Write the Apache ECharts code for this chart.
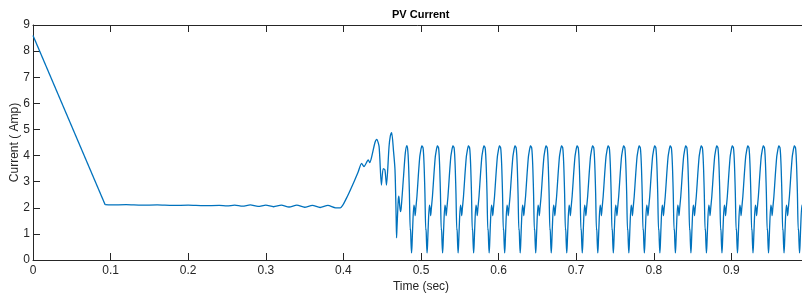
<!DOCTYPE html>
<html>
<head>
<meta charset="utf-8">
<script src="https://cdn.jsdelivr.net/npm/echarts@6/dist/echarts.min.js"></script>
<style>
  html, body { margin: 0; padding: 0; background: #fff; }
  #main { width: 802px; height: 293px; }
</style>
</head>
<body>
<div id="main"></div>
<script>
// initial ramp down of the PV current (time s, current A)
var rampTimes = [0, 0.093];
var rampValues = [8.6, 2.12];

// flat MPPT region and the transition into the ripple
var startTimes = [0.093, 0.10, 0.12, 0.14, 0.16, 0.18, 0.20, 0.22, 0.24,
  0.25, 0.26, 0.27, 0.28, 0.29, 0.30, 0.31, 0.32, 0.33, 0.34, 0.35, 0.36, 0.37, 0.38, 0.39,
  0.396, 0.404, 0.413, 0.419, 0.4235, 0.4265, 0.432, 0.434, 0.4365, 0.4407, 0.443, 0.446,
  0.449, 0.4513, 0.4535, 0.4555, 0.4588, 0.4605, 0.4622, 0.4645, 0.4665, 0.468, 0.4685,
  0.469, 0.4707, 0.4715, 0.4725, 0.4735, 0.4745, 0.4775, 0.4798];
var startValues = [2.12, 2.11, 2.12, 2.10, 2.11, 2.09, 2.10, 2.08, 2.09,
  2.07, 2.10, 2.06, 2.11, 2.05, 2.10, 2.04, 2.10, 2.03, 2.10, 2.02, 2.09, 2.01, 2.09, 2.00,
  2.00, 2.37, 2.95, 3.37, 3.70, 3.58, 3.83, 3.73, 3.96, 4.50, 4.62, 4.34,
  2.87, 3.50, 3.45, 2.87, 4.34, 4.75, 4.88, 4.20, 3.45, 1.60, 0.85,
  1.20, 2.30, 2.45, 2.10, 1.85, 2.00, 3.20, 4.10];

// times of the steady-state current peaks
var peakTimes = [0.4818, 0.5018, 0.5218, 0.5418, 0.5618, 0.5818, 0.6018, 0.6218, 0.6418,
  0.6618, 0.6818, 0.7018, 0.7218, 0.7418, 0.7618, 0.7818, 0.8018, 0.8218, 0.8418, 0.8618,
  0.8818, 0.9018, 0.9218, 0.9418, 0.9618, 0.9818];

// one ripple cycle: offset from the peak (s) and current (A)
var cycleOffsets = [0, 0.0008, 0.0016, 0.0024, 0.0033, 0.0043, 0.0047, 0.0053, 0.0060,
  0.0066, 0.0074, 0.0090, 0.0100, 0.0107, 0.0116, 0.0130, 0.0148, 0.0166, 0.0178, 0.0187, 0.0194];
var cycleValues = [4.38, 4.30, 4.02, 3.45, 2.50, 1.15, 1.20, 0.70, 0.27,
  0.55, 1.20, 2.10, 1.95, 1.70, 2.00, 2.45, 3.25, 3.95, 4.18, 4.31, 4.37];

var xTicks = { min: 0, max: 1, interval: 0.1 };
var yTicks = { min: 0, max: 9, interval: 1 };

var rampPoints = rampTimes.map(function (t, i) { return [t, rampValues[i]]; });
var points = startTimes.map(function (t, i) { return [t, startValues[i]]; });
peakTimes.forEach(function (p) {
  for (var j = 0; j < cycleOffsets.length; j++) {
    points.push([p + cycleOffsets[j], cycleValues[j]]);
  }
});

var axisColor = '#262626';
var lineColor = '#0072BD';
var font = "'Liberation Sans', Arial, sans-serif";

function frameAxis(pos, extra) {
  var ax = {
    type: 'value',
    position: pos,
    axisLine: { show: true, onZero: false, lineStyle: { color: axisColor, width: 1 } },
    axisTick: { show: true, inside: true, length: 7, lineStyle: { color: axisColor } },
    axisLabel: { show: false },
    splitLine: { show: false }
  };
  return Object.assign(ax, extra);
}

var chart = echarts.init(document.getElementById('main'));
var option = {
  animation: false,
  title: {
    text: 'PV Current',
    left: 392,
    top: 9,
    padding: 0,
    textStyle: { fontFamily: font, fontSize: 11, fontWeight: 'bold', color: '#000' }
  },
  grid: { left: 33, right: -7, top: 25, bottom: 33, containLabel: false, outerBoundsMode: 'none' },
  xAxis: [
    frameAxis('bottom', Object.assign({
      name: 'Time (sec)',
      nameLocation: 'middle',
      nameGap: 21,
      nameMoveOverlap: false,
      nameTextStyle: { fontFamily: font, fontSize: 12, color: axisColor },
      axisLabel: { show: true, margin: 5, fontFamily: font, fontSize: 12, color: axisColor }
    }, xTicks)),
    frameAxis('top', Object.assign({}, xTicks))
  ],
  yAxis: [
    frameAxis('left', Object.assign({
      name: 'Current ( Amp)',
      nameLocation: 'middle',
      nameGap: 12,
      nameMoveOverlap: false,
      nameTextStyle: { fontFamily: font, fontSize: 12, color: axisColor },
      axisLabel: { show: true, margin: 3, fontFamily: font, fontSize: 12, color: axisColor }
    }, yTicks)),
    frameAxis('right', Object.assign({}, yTicks))
  ],
  series: [{
    type: 'line',
    data: rampPoints,
    showSymbol: false,
    lineStyle: { color: lineColor, width: 1.3 }
  }, {
    type: 'line',
    data: points,
    showSymbol: false,
    smooth: 0.25,
    lineStyle: { color: lineColor, width: 1.3 }
  }]
};
chart.setOption(option);
</script>
</body>
</html>
